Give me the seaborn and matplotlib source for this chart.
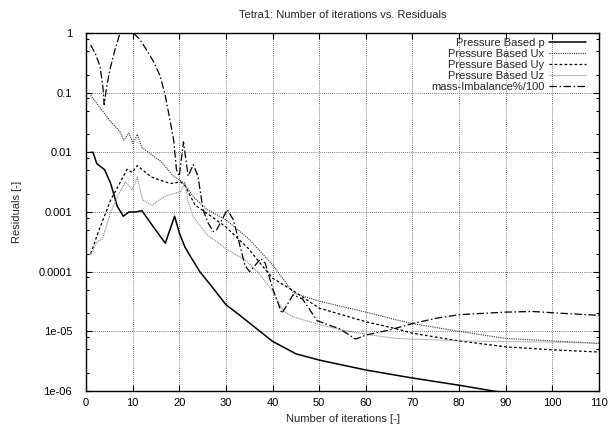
import numpy as np
import pandas as pd
import matplotlib
matplotlib.use("Agg")
import matplotlib.pyplot as plt
import seaborn as sns
from matplotlib.ticker import FixedLocator, FixedFormatter, LogLocator, NullFormatter

# ---------------- data ----------------
p_iter = [1, 1.5, 2.3, 4, 5.3, 6.7, 8, 9.2, 10.5, 12, 14, 17, 19, 20, 21.2, 22.4,
          24.4, 27, 30, 33, 37.3, 40, 45, 50, 60, 70, 80, 87.3, 100, 110]
p_val = [1.0e-2, 1.0e-2, 6.5e-3, 5.1e-3, 3.0e-3, 1.25e-3, 8.5e-4, 1.0e-3, 1.0e-3,
         1.05e-3, 6.3e-4, 3.0e-4, 8.5e-4, 4.5e-4, 2.6e-4, 1.8e-4, 1.0e-4, 5.6e-5,
         2.8e-5, 1.85e-5, 1.0e-5, 6.8e-6, 4.2e-6, 3.3e-6, 2.25e-6, 1.65e-6, 1.25e-6,
         1.0e-6, 7.0e-7, 5.4e-7]

ux_iter = [1, 3, 5, 7.3, 8.1, 9.2, 10.1, 11, 12, 14.6, 16, 18.7, 20, 21, 23.3, 26,
           30, 34.8, 40, 44.5, 50, 60, 66.6, 70, 80, 90, 100, 110]
ux_val = [9.1e-2, 5.6e-2, 3.5e-2, 2.2e-2, 1.6e-2, 2.1e-2, 1.4e-2, 2.0e-2, 1.2e-2,
          8.5e-3, 7.1e-3, 4.0e-3, 3.5e-3, 3.0e-3, 1.7e-3, 1.1e-3, 7.4e-4, 3.6e-4,
          1.3e-4, 4.4e-5, 3.2e-5, 2.1e-5, 1.55e-5, 1.35e-5, 1.0e-5, 7.6e-6, 6.9e-6,
          6.3e-6]

uy_iter = [1, 2.8, 5.3, 7, 8.8, 9.9, 11, 13.9, 16, 18.1, 20.3, 21.2, 23.4, 27, 30,
           34.8, 37.3, 40, 44.8, 50, 60, 66.6, 70, 80, 90, 100, 110]
uy_val = [2.0e-4, 5.0e-4, 1.6e-3, 2.8e-3, 5.2e-3, 4.6e-3, 6.0e-3, 3.9e-3, 3.4e-3,
          3.0e-3, 3.2e-3, 2.8e-3, 1.3e-3, 8.3e-4, 5.6e-4, 2.45e-4, 1.4e-4, 7.8e-5,
          4.6e-5, 2.45e-5, 1.45e-5, 1.1e-5, 9.3e-6, 6.9e-6, 5.5e-6, 4.9e-6, 4.5e-6]

uz_iter = [1, 2.4, 3.5, 5.3, 7, 8.5, 9.9, 11, 12.1, 14.2, 16.7, 18, 20.3, 21.2, 21.8,
           23, 25.9, 30, 34.4, 37.3, 40, 42.3, 44.4, 50, 55, 60, 66.6, 80, 100, 110]
uz_val = [1.9e-4, 3.2e-4, 3.5e-4, 1.0e-3, 2.0e-3, 3.2e-3, 2.35e-3, 3.8e-3, 1.6e-3,
          1.3e-3, 1.8e-3, 1.95e-3, 2.2e-3, 3.2e-3, 1.6e-3, 8.3e-4, 4.2e-4, 2.45e-4,
          1.5e-4, 8.9e-5, 4.7e-5, 2.2e-5, 1.75e-5, 1.3e-5, 1.05e-5, 8.9e-6, 7.6e-6,
          6.9e-6, 6.6e-6, 6.3e-6]

mass_iter = [1, 2, 3, 3.6, 3.9, 4.4, 5.1, 6.2, 7.3, 8.7, 10.1, 11.5, 13, 14.5, 15.9,
             17, 18, 18.8, 19.4, 20, 20.9, 21.9, 23, 24, 25.1, 26.2, 27.3, 28, 30.3,
             31.6, 34.1, 35.1, 37.5, 38.4, 40.1, 42, 44.4, 46.4, 49.6, 54.4, 57.8,
             60.1, 65, 70, 75, 80, 90, 95.8, 100, 110]
mass_val = [0.63, 0.45, 0.28, 0.13, 0.063, 0.12, 0.24, 0.52, 1.0, 1.26, 1.0, 0.79,
            0.52, 0.33, 0.19, 0.089, 0.035, 0.016, 5.1e-3, 4.0e-3, 1.5e-2, 4.0e-3,
            6.2e-3, 4.0e-3, 1.1e-3, 6.5e-4, 4.7e-4, 5.0e-4, 1.1e-3, 7.4e-4, 1.26e-4,
            1.0e-4, 1.66e-4, 1.4e-4, 5.0e-5, 2.0e-5, 4.1e-5, 3.5e-5, 1.5e-5, 1.1e-5,
            7.4e-6, 8.7e-6, 1.05e-5, 1.35e-5, 1.65e-5, 1.9e-5, 2.1e-5, 2.15e-5,
            2.05e-5, 1.85e-5]

series_names = ["Pressure Based p", "Pressure Based Ux", "Pressure Based Uy",
                "Pressure Based Uz", "mass-Imbalance%/100"]
x_ticks = [0, 10, 20, 30, 40, 50, 60, 70, 80, 90, 100, 110]
y_ticks = [1e-6, 1e-5, 1e-4, 1e-3, 1e-2, 1e-1, 1]
y_tick_labels = ["1e-06", "1e-05", "0.0001", "0.001", "0.01", "0.1", "1"]

# ---------------- style ----------------
sns.set_style("ticks")
plt.rcParams["font.family"] = ["Liberation Sans", "DejaVu Sans"]
plt.rcParams["font.size"] = 8

W, H = 611, 432
fig = plt.figure(figsize=(W / 100, H / 100), dpi=100)
ax = fig.add_axes([86 / W, 1 - 391 / H, (599 - 86) / W, (391 - 33) / H])

styles = [
    dict(color="black", linewidth=1.1, linestyle="-"),
    dict(color="#333333", linewidth=0.8, linestyle=(0, (1, 1))),
    dict(color="black", linewidth=0.9, linestyle=(0, (2.2, 1.8))),
    dict(color="#8a8a8a", linewidth=0.8, linestyle=(0, (1, 0.8))),
    dict(color="black", linewidth=0.9, linestyle=(0, (6, 2, 1.2, 2))),
]
data = [(p_iter, p_val), (ux_iter, ux_val), (uy_iter, uy_val),
        (uz_iter, uz_val), (mass_iter, mass_val)]

for (xs, ys), name, st in zip(data, series_names, styles):
    df = pd.DataFrame({"iter": xs, "res": ys})
    sns.lineplot(data=df, x="iter", y="res", ax=ax, label=name,
                 estimator=None, sort=False, **st)

ax.set_yscale("log")
ax.set_xlim(0, 110)
ax.set_ylim(1e-6, 1)

ax.xaxis.set_major_locator(FixedLocator(x_ticks))
ax.yaxis.set_major_locator(FixedLocator(y_ticks))
ax.yaxis.set_major_formatter(FixedFormatter(y_tick_labels))
ax.yaxis.set_minor_locator(LogLocator(base=10, subs=(2, 5, 8)))
ax.yaxis.set_minor_formatter(NullFormatter())

ax.tick_params(which="both", direction="in", top=True, right=True,
               colors="black", labelsize=8)
ax.tick_params(which="major", length=4.5, width=0.8)
ax.tick_params(axis="x", which="major", pad=5)
ax.tick_params(axis="y", which="major", pad=10)
ax.tick_params(which="minor", length=2.5, width=0.8)

ax.grid(True, which="major", color="black", linestyle=(0, (1, 2)), linewidth=0.5)
for s in ax.spines.values():
    s.set_color("black")
    s.set_linewidth(1.0)

ax.set_title("Tetra1: Number of iterations vs. Residuals", fontsize=8, pad=11)
ax.set_xlabel("Number of iterations [-]", fontsize=8, labelpad=4)
ax.set_ylabel("Residuals [-]", fontsize=8, labelpad=12)

leg = ax.legend(loc="upper right", bbox_to_anchor=((586 - 86) / 513, (391 - 38) / 358),
                frameon=False, markerfirst=False, fontsize=8, borderpad=0,
                borderaxespad=0, handlelength=3.3, handletextpad=0.45,
                labelspacing=0.08)

fig.savefig("out.png", dpi=100)
